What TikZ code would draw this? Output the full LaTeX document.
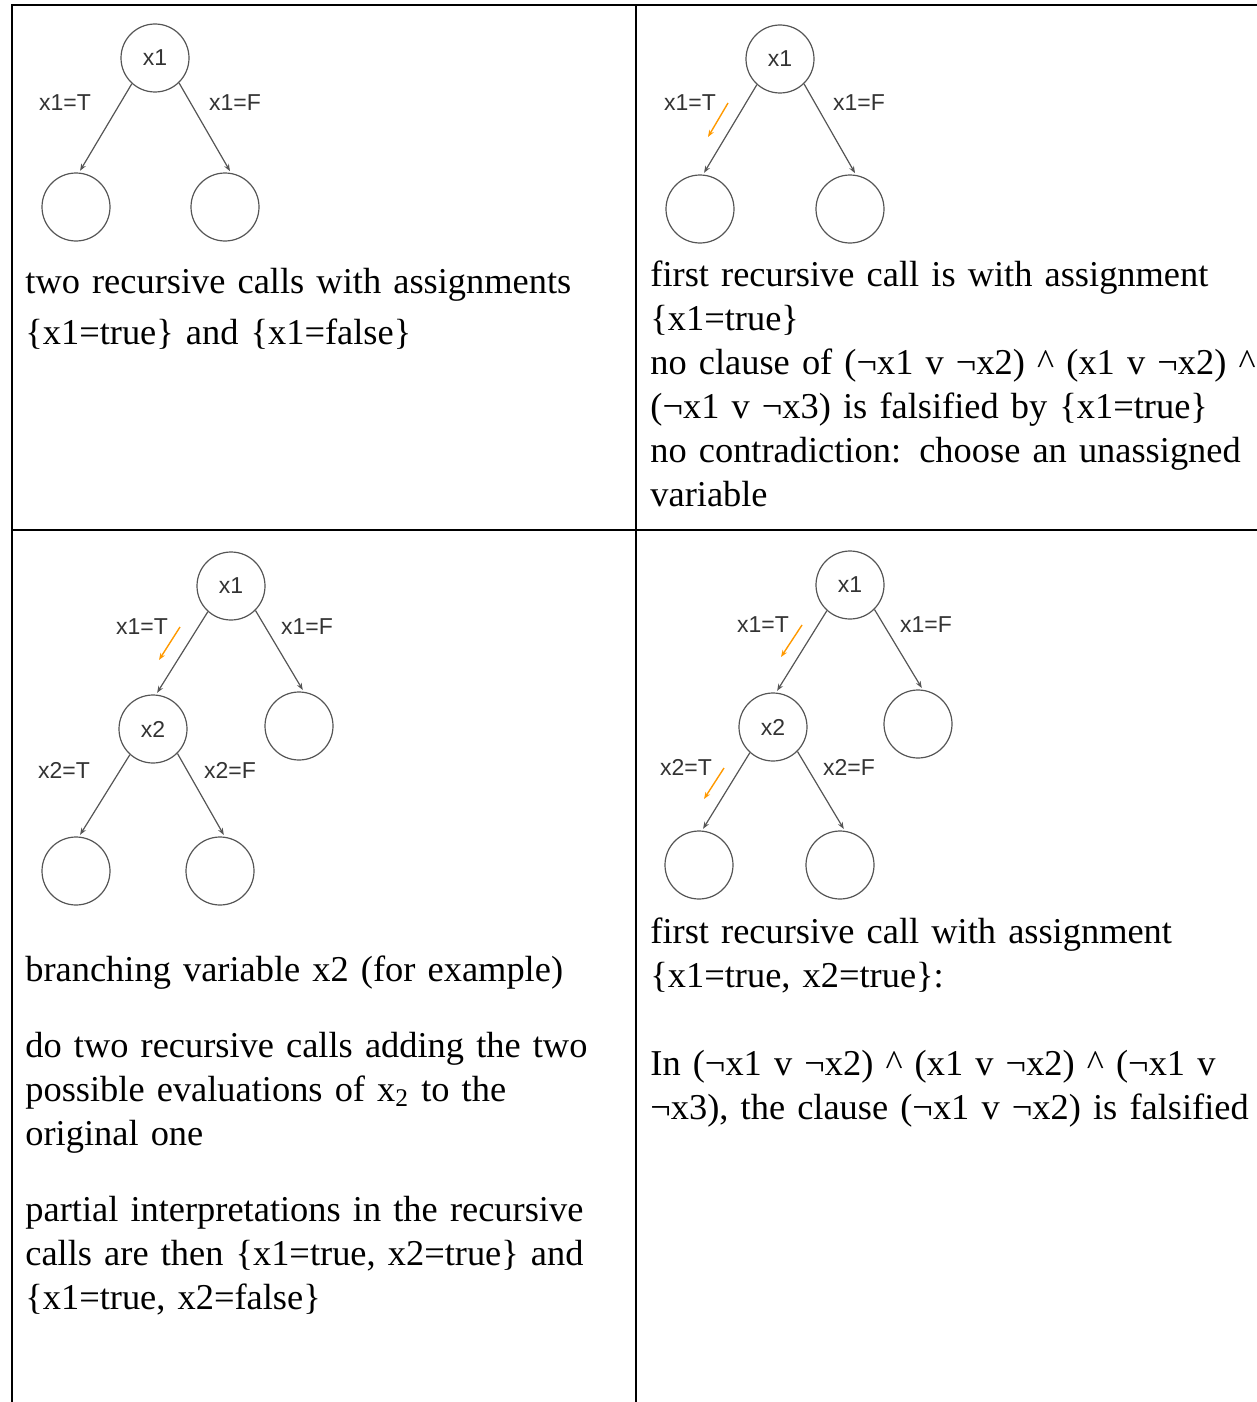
\documentclass[tikz,border=0pt]{standalone}
\usepackage{fontspec}
\setmainfont{Liberation Serif}
\newfontfamily\treefont{Liberation Sans}
\usepackage{xcolor}
\usetikzlibrary{arrows.meta}

\definecolor{treegray}{RGB}{85,85,85}
\definecolor{hintorange}{RGB}{255,153,0}

\tikzset{
  vnode/.style={circle, draw=treegray, line width=0.6pt, minimum size=34pt, inner sep=0pt,
    font=\treefont\fontsize{11.5}{13}\selectfont, text=black!80},
  branch/.style={-{Stealth[length=3.5pt,width=2.6pt]}, draw=treegray, line width=0.6pt, shorten >=1pt},
  blabel/.style={font=\treefont\fontsize{11.5}{13}\selectfont, text=black!80, inner sep=0pt},
  hint/.style={-{Stealth[length=3.5pt,width=2.6pt]}, draw=hintorange, line width=0.7pt},
  txt/.style={anchor=base west, inner sep=0pt, text width=610pt, align=left,
    font=\fontsize{18.2}{22}\selectfont},
  grid/.style={line width=1pt, black}
}

\begin{document}
\begin{tikzpicture}[x=0.5pt, y=-0.5pt]
    \useasboundingbox (0,0) rectangle (1257,1402);

    % table lines
    \draw[grid] (12,1402) -- (12,5) -- (1257,5);
    \draw[grid] (636,5) -- (636,1402);
    \draw[grid] (12,530) -- (1257,530);

    % cell 1: two calls
    \node[vnode] (a1) at (155,58) {x1};
    \node[vnode] (aT) at (76,207) {};
    \node[vnode] (aF) at (225,207) {};
    \draw[branch] (a1.-132) -- (aT.85);
    \draw[branch] (a1.-46) -- (aF.80);
    \node[blabel] (aTl) at (65,103) {x1=T};
    \node[blabel] (aFl) at (235,103) {x1=F};

    \node[txt, font=\fontsize{18.2}{25.5}\selectfont] (ptA) at (25,293) {
      two recursive calls with assignments\\
      \{x1=true\} and \{x1=false\}};

    % cell 2: first call x1=true
    \node[vnode] (b1) at (780,59) {x1};
    \node[vnode] (bT) at (700,209) {};
    \node[vnode] (bF) at (850,209) {};
    \draw[branch] (b1.-132) -- (bT.85);
    \draw[branch] (b1.-46) -- (bF.80);
    \node[blabel] (bTl) at (690,103) {x1=T};
    \node[blabel] (bFl) at (859,103) {x1=F};
    \coordinate (bh1) at (728,103);
    \coordinate (bh2) at (708,137);
    \draw[hint] (bh1) -- (bh2);

    \node[txt] (ptB) at (650,286) {
      first recursive call is with assignment\\
      \{x1=true\}\\
      no clause of (¬x1 v ¬x2) \textasciicircum{} (x1 v ¬x2) \textasciicircum\\
      (¬x1 v ¬x3) is falsified by \{x1=true\}\\
      no contradiction: choose an unassigned\\
      variable};

    % cell 3: branching on x2
    \node[vnode] (c1) at (231,586) {x1};
    \node[vnode] (c2) at (153,729) {x2};
    \node[vnode] (cF) at (299,726) {};
    \node[vnode] (cTT) at (76,871) {};
    \node[vnode] (cTF) at (220,871) {};
    \draw[branch] (c1.-132) -- (c2.85);
    \draw[branch] (c1.-45) -- (cF.82);
    \draw[branch] (c2.-132) -- (cTT.85);
    \draw[branch] (c2.-45) -- (cTF.82);
    \node[blabel] (c1Tl) at (142,627) {x1=T};
    \node[blabel] (c1Fl) at (307,627) {x1=F};
    \node[blabel] (c2Tl) at (64,770) {x2=T};
    \node[blabel] (c2Fl) at (230,770) {x2=F};
    \coordinate (ch1) at (180,627);
    \coordinate (ch2) at (159,660);
    \draw[hint] (ch1) -- (ch2);

    \node[txt] (ptC1) at (25,981) {branching variable x2 (for example)};
    \node[txt] (ptC2) at (25,1057) {
      do two recursive calls adding the two\\
      possible evaluations of x\textsubscript{2} to the\\
      original one};
    \node[txt] (ptC3) at (25,1221) {
      partial interpretations in the recursive\\
      calls are then \{x1=true, x2=true\} and\\
      \{x1=true, x2=false\}};

    % cell 4: conflict
    \node[vnode] (d1) at (850,585) {x1};
    \node[vnode] (d2) at (773,727) {x2};
    \node[vnode] (dF) at (918,724) {};
    \node[vnode] (dTT) at (699,865) {};
    \node[vnode] (dTF) at (840,865) {};
    \draw[branch] (d1.-132) -- (d2.85);
    \draw[branch] (d1.-45) -- (dF.82);
    \draw[branch] (d2.-132) -- (dTT.85);
    \draw[branch] (d2.-45) -- (dTF.82);
    \node[blabel] (d1Tl) at (763,625) {x1=T};
    \node[blabel] (d1Fl) at (926,625) {x1=F};
    \node[blabel] (d2Tl) at (686,767) {x2=T};
    \node[blabel] (d2Fl) at (849,767) {x2=F};
    \coordinate (dh1) at (802,625);
    \coordinate (dh2) at (781,657);
    \draw[hint] (dh1) -- (dh2);
    \coordinate (dh3) at (724,768);
    \coordinate (dh4) at (704,799);
    \draw[hint] (dh3) -- (dh4);

    \node[txt] (ptD1) at (650,943) {
      first recursive call with assignment\\
      \{x1=true, x2=true\}:};
    \node[txt] (ptD2) at (650,1075) {
      In (¬x1 v ¬x2) \textasciicircum{} (x1 v ¬x2) \textasciicircum{} (¬x1 v\\
      ¬x3), the clause (¬x1 v ¬x2) is falsified};
\end{tikzpicture}
\end{document}
